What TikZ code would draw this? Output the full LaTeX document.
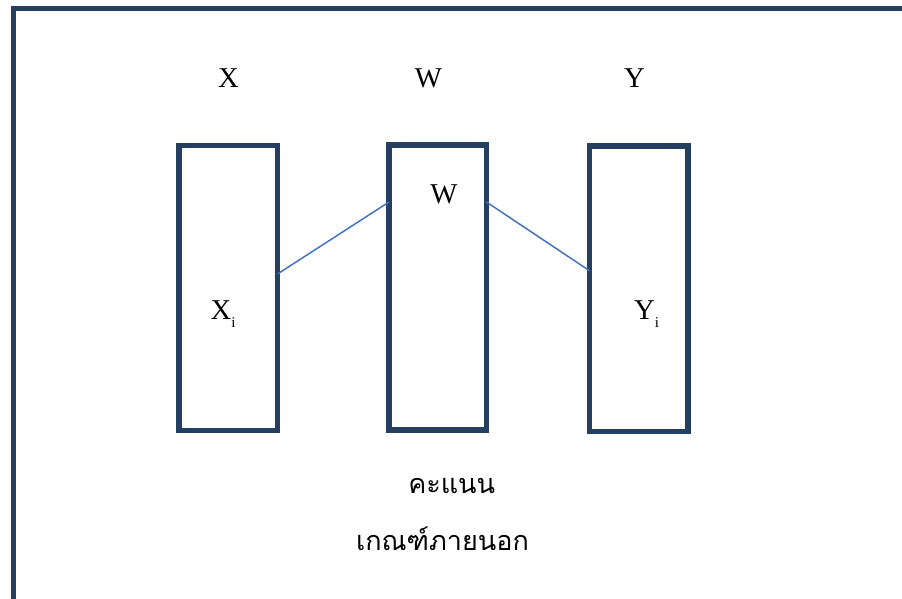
\documentclass[tikz,border=0pt]{standalone}
\usepackage{fontspec}
\setmainfont{Liberation Serif}
\newfontfamily\thaifont[Script=Thai]{Loma}
\usetikzlibrary{calc}
\definecolor{navy}{HTML}{243F60}
\definecolor{linkblue}{HTML}{4472C4}
\begin{document}
\begin{tikzpicture}[x=1pt,y=-1pt,
  column/.style={draw=navy,line width=5.5pt,rectangle,outer sep=0pt,inner sep=0pt,
    minimum width=98.5pt,minimum height=285pt},
  link/.style={draw=linkblue,line width=1.5pt},
  label/.style={inner sep=0pt,font=\fontsize{28.7}{30}\selectfont},
  thai/.style={inner sep=0pt,font=\thaifont\fontsize{27}{30}\selectfont,anchor=base}]
\useasboundingbox (0,0) rectangle (902,598);
\clip (0,0) rectangle (902,598);
% outer frame, open to the right and bottom
\draw[navy,line width=5.5pt] (13.5,610) -- (13.5,8.5) -- (915,8.5);
% headings
\node[label] (hx) at (228.5,78.5) {X};
\node[label] (hw) at (428.5,78.5) {W};
\node[label] (hy) at (634.5,78.5) {Y};
% the three columns
\node[column] (bx) at (228.25,288) {};
\node[column,minimum width=97.5pt] (bw) at (437.75,287.5) {};
\node[column,minimum height=285.5pt] (by) at (638.75,288.75) {};
% column contents
\node[label,anchor=base west] (xi) at (210.5,319) {X\raisebox{-8pt}{\fontsize{15}{15}\selectfont i}};
\node[label] (wi) at (444,194) {W};
\node[label,anchor=base west] (yi) at (634,319) {Y\raisebox{-8pt}{\fontsize{15}{15}\selectfont i}};
% links between columns
\draw[link] ([yshift=14pt]bx.east) -- ([yshift=85.5pt]bw.west);
\draw[link] ([yshift=85.5pt]bw.east) -- ([yshift=18pt]by.west);
% caption
\node[thai] (t1) at (451.7,493) {คะแนน};
\node[thai] (t2) at (442.5,550) {เกณฑ์ภายนอก};
\end{tikzpicture}
\end{document}
